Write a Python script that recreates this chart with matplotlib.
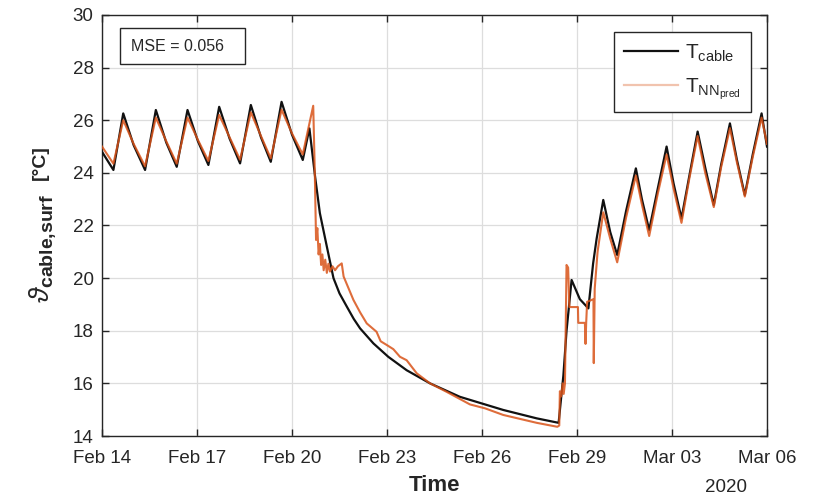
import numpy as np
import matplotlib
matplotlib.use("Agg")
import matplotlib.pyplot as plt
import matplotlib.dates as mdates
from matplotlib.lines import Line2D
from matplotlib.patches import Rectangle

plt.rcParams['font.family'] = ['Liberation Sans', 'DejaVu Sans']
plt.rcParams['mathtext.fontset'] = 'custom'
plt.rcParams['mathtext.rm'] = 'Liberation Sans'
plt.rcParams['mathtext.bf'] = 'Liberation Sans:bold'
plt.rcParams['mathtext.it'] = 'Liberation Sans:italic'

# measured cable surface temperature (days after Feb 14 2020, degC)
days_cable = [0.00, 0.36, 0.67, 1.00, 1.36, 1.70, 2.03, 2.36, 2.70, 3.03,
              3.36, 3.70, 4.03, 4.36, 4.70, 5.02, 5.33, 5.67, 6.00, 6.34,
              6.55, 6.73, 6.88, 7.10, 7.31, 7.50, 7.73, 7.95, 8.15, 8.57, 9.04, 9.62,
              10.36, 11.30, 12.15, 12.67, 13.73, 14.42, 14.57, 14.67, 14.83, 15.09,
              15.36, 15.51, 15.62, 15.83, 16.05, 16.27, 16.55, 16.86, 17.05, 17.28,
              17.55, 17.83, 18.05, 18.30, 18.55, 18.81, 19.05, 19.32, 19.55, 19.83,
              20.05, 20.30, 20.55, 20.83, 21.00]
temp_cable = [24.80, 24.11, 26.26, 25.05, 24.11, 26.39, 25.15, 24.23, 26.39, 25.20,
              24.30, 26.51, 25.30, 24.36, 26.58, 25.35, 24.42, 26.70, 25.45, 24.49,
              25.69, 23.85, 22.47, 21.20, 20.00, 19.42, 18.92, 18.45, 18.09, 17.52, 17.01, 16.50,
              16.00, 15.49, 15.18, 14.99, 14.67, 14.50, 16.30, 18.00, 19.93, 19.20,
              18.85, 20.56, 21.50, 22.97, 21.75, 20.88, 22.55, 24.17, 23.00, 21.83,
              23.40, 25.00, 23.60, 22.27, 23.90, 25.57, 24.20, 22.78, 24.30, 25.88,
              24.50, 23.16, 24.70, 26.26, 25.00]

# neural network prediction
days_pred = [0.00, 0.36, 0.67, 1.00, 1.36, 1.70, 2.03, 2.36, 2.70, 3.03,
             3.36, 3.70, 4.03, 4.36, 4.70, 5.02, 5.33, 5.67, 6.00, 6.34,
             6.50, 6.67, 6.72, 6.76, 6.80, 6.84, 6.88, 6.92, 6.96, 7.00,
             7.05, 7.10, 7.15, 7.20, 7.28, 7.36, 7.45, 7.57, 7.63, 7.94,
             8.15, 8.36, 8.67, 8.80, 8.99, 9.20, 9.41, 9.62, 9.94, 10.36,
             10.88, 11.62, 12.10, 12.67, 13.20, 13.73, 14.38, 14.44, 14.46, 14.50,
             14.55, 14.58, 14.62, 14.67, 14.72, 14.76, 15.03, 15.04, 15.25, 15.27,
             15.29, 15.32, 15.52, 15.53, 15.56, 15.65, 15.83, 16.05, 16.27, 16.55,
             16.86, 17.05, 17.28, 17.55, 17.83, 18.05, 18.30, 18.55, 18.81, 19.05,
             19.32, 19.55, 19.83, 20.05, 20.30, 20.55, 20.83, 21.00]
temp_pred = [25.00, 24.35, 26.00, 25.10, 24.25, 26.10, 25.20, 24.35, 26.10, 25.25,
             24.45, 26.20, 25.35, 24.50, 26.30, 25.40, 24.55, 26.40, 25.50, 24.70,
             25.60, 26.55, 24.00, 21.45, 21.90, 20.90, 21.30, 20.50, 20.90, 20.30,
             20.70, 20.20, 20.55, 20.25, 20.45, 20.30, 20.45, 20.56, 20.06, 19.17,
             18.70, 18.28, 17.96, 17.60, 17.46, 17.30, 17.01, 16.88, 16.38, 16.00,
             15.68, 15.20, 15.05, 14.80, 14.65, 14.50, 14.35, 14.40, 15.70, 15.50,
             16.00, 15.60, 16.00, 20.50, 20.40, 18.90, 18.90, 18.30, 18.30, 17.50,
             18.30, 19.10, 19.20, 16.77, 19.60, 21.00, 22.50, 21.50, 20.60, 22.30,
             23.90, 22.80, 21.60, 23.20, 24.70, 23.40, 22.10, 23.80, 25.40, 24.00,
             22.70, 24.20, 25.70, 24.40, 23.10, 24.60, 26.10, 25.10]

tick_dates = ['2020-02-14', '2020-02-17', '2020-02-20', '2020-02-23',
              '2020-02-26', '2020-02-29', '2020-03-03', '2020-03-06']
mse = 0.056

start = np.datetime64('2020-02-14T00:00')


def to_time(days):
    return start + np.round(np.array(days) * 1440).astype('timedelta64[m]')


orange = '#D95319'
dark = '#262626'

fig = plt.figure(figsize=(8.24, 5.03), dpi=100)
ax = fig.add_axes([0.1238, 0.1332, 0.8070, 0.8370])

ax.plot(to_time(days_cable), temp_cable, color='#111111', lw=1.6, zorder=3)
ax.plot(to_time(days_pred), temp_pred, color=orange, lw=1.5, alpha=0.85, zorder=4)

ticks = np.array(tick_dates, dtype='datetime64[m]')
ax.set_xlim(ticks[0], ticks[-1])
ax.set_xticks(ticks)
ax.xaxis.set_major_formatter(mdates.DateFormatter('%b %d'))
ax.set_ylim(14, 30)
ax.set_yticks(np.arange(14, 31, 2))

ax.grid(True, color='#DDDDDD', lw=0.9)
ax.set_axisbelow(True)
for s in ax.spines.values():
    s.set_color(dark)
    s.set_linewidth(1.0)
ax.tick_params(direction='in', length=5, width=1.0, color=dark,
               top=True, right=True, labelsize=13.5, labelcolor=dark)
ax.tick_params(axis='x', pad=10)
ax.tick_params(axis='y', pad=6)

ax.set_xlabel('Time', fontsize=16, fontweight='bold', color=dark, labelpad=6)
fig.text(726 / 824, 1 - 487 / 503, '2020', fontsize=13.5, color=dark,
         ha='center', va='center')

# y label: large theta with bold subscript, then the unit
fig.text(43 / 824, 1 - 303 / 503, r'$\vartheta_{\mathbf{cable{,}surf}}$',
         fontsize=20, rotation=90, ha='center', va='bottom', color=dark)
fig.text(40 / 824, 1 - 145 / 503, '[°C]', fontsize=14, fontweight='bold',
         rotation=90, ha='center', va='top', color=dark)

# MSE box
ax.add_patch(Rectangle((0.0271, 0.8836), 0.188, 0.0854, transform=ax.transAxes,
                       facecolor='white', edgecolor=dark, lw=1.0, zorder=6))
ax.text(0.0436, 0.926, f'MSE = {mse}', transform=ax.transAxes, fontsize=11.5,
        ha='left', va='center', color=dark, zorder=7)

handles = [Line2D([], [], color='#111111', lw=1.6),
           Line2D([], [], color=orange, lw=1.6, alpha=0.35)]
leg = ax.legend(handles, [r'$\mathregular{T_{cable}}$', r'$\mathregular{T_{NN_{pred}}}$'],
                loc='upper right', bbox_to_anchor=(0.976, 0.9596), borderaxespad=0,
                fontsize=15, handlelength=2.6, handletextpad=0.3, labelspacing=0.6,
                fancybox=False, framealpha=1, edgecolor=dark, borderpad=0.5)
leg.get_frame().set_linewidth(1.0)
for t in leg.get_texts():
    t.set_color(dark)

fig.savefig('out.png', dpi=100)
